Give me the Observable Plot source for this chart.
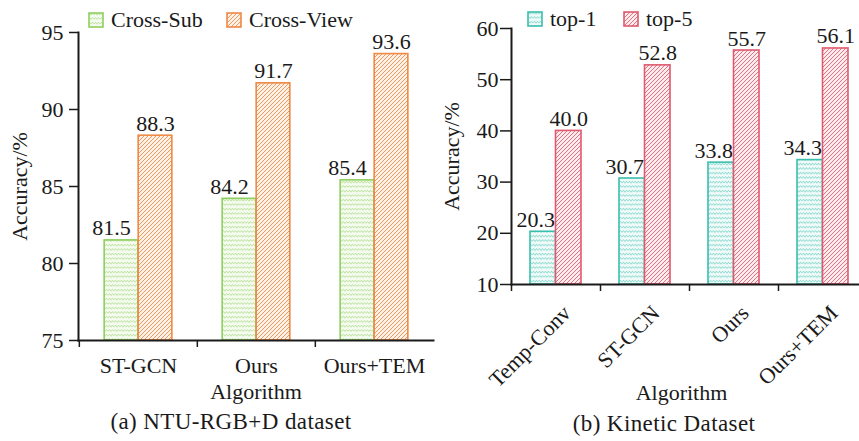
<!DOCTYPE html>
<html>
<head>
<meta charset="utf-8">
<script src="https://cdn.jsdelivr.net/npm/d3@7"></script>
<script src="https://cdn.jsdelivr.net/npm/@observablehq/plot@0.6"></script>
<style>
  html, body { margin: 0; padding: 0; background: #fff; overflow: hidden; }
  #fig { position: relative; width: 859px; height: 441px; overflow: hidden;
         font-family: "Liberation Serif", "Times New Roman", serif; color: #1a1a1a; }
  .panel { position: absolute; top: 0; }
  .txt { position: absolute; font-size: 22px; line-height: 22px; white-space: nowrap; }
  .cap { font-size: 23px; letter-spacing: 0.4px; }
  .center { transform: translateX(-50%); }
  .swatch { position: absolute; }
</style>
</head>
<body>
<div id="fig"></div>
<script>
// (a) NTU-RGB+D
const ntuAlgorithms = ["ST-GCN", "Ours", "Ours+TEM"];
const ntuSeries = ["Cross-Sub", "Cross-View"];
const crossSub = [81.5, 84.2, 85.4];
const crossView = [88.3, 91.7, 93.6];
const ntuTicks = [75, 80, 85, 90, 95];

// (b) Kinetic
const kineticAlgorithms = ["Temp-Conv", "ST-GCN", "Ours", "Ours+TEM"];
const kineticSeries = ["top-1", "top-5"];
const top1 = [20.3, 30.7, 33.8, 34.3];
const top5 = [40.0, 52.8, 55.7, 56.1];
const kineticTicks = [10, 20, 30, 40, 50, 60];

const fig = document.getElementById("fig");
const FONT = '"Liberation Serif", "Times New Roman", serif';

// Fill patterns: pale zigzag for the first series, diagonal hatch for the second
function addPatterns(svg, list) {
  const defs = d3.select(svg).insert("defs", ":first-child");
  for (const p of list) {
    const pat = defs.append("pattern")
      .attr("id", p.id).attr("patternUnits", "userSpaceOnUse")
      .attr("width", p.w).attr("height", p.h);
    pat.append("rect").attr("width", p.w).attr("height", p.h).attr("fill", p.bg);
    pat.append("path").attr("d", p.d).attr("fill", "none")
      .attr("stroke", p.color).attr("stroke-width", p.sw).attr("stroke-opacity", p.op ?? 1);
  }
}
const zigzag = (id, color, bg) => ({id, color, bg, w: 6, h: 4.5, sw: 0.8, op: 0.75, d: "M0,3 L1.5,1.2 L3,3 L4.5,1.2 L6,3"});
const hatch = (id, color, bg) => ({id, color, bg, w: 4, h: 4, sw: 1, op: 0.85, d: "M0,4 L4,0 M-1,1 L1,-1 M3,5 L5,3"});

function panel(o) {
  const bw = (o.width - o.marginLeft - o.marginRight) / o.algorithms.length;
  const yMin = o.yTicks[0];
  const marks = [];
  o.series.forEach((name, i) => {
    const data = o.algorithms.map((a, j) => ({algorithm: a, series: name, value: o.values[i][j]}));
    const first = i === 0;
    marks.push(Plot.barY(data, {
      x: "algorithm", y1: yMin, y2: "value",
      fill: `url(#${o.patternIds[i]})`, stroke: o.colors[i], strokeWidth: 1.6,
      insetLeft: first ? bw / 2 - o.barWidth : bw / 2,
      insetRight: first ? bw / 2 : bw / 2 - o.barWidth
    }));
    marks.push(Plot.text(data, {
      x: "algorithm", y: "value", text: d => d.value.toFixed(1),
      lineAnchor: "bottom", dy: -5,
      textAnchor: first ? o.firstAnchor : "middle",
      dx: first ? o.firstDx : o.barWidth / 2,
      fontSize: 22, fill: "#1a1a1a"
    }));
  });
  marks.push(
    Plot.axisY({ticks: o.yTicks, tickSize: o.yTickSize, tickPadding: o.yTickPadding, strokeWidth: 1.5,
      label: "Accuracy/%", labelAnchor: "center", labelArrow: "none", labelOffset: o.yLabelOffset}),
    Plot.axisX({tickSize: 0, tickPadding: o.xTickPadding, tickRotate: o.tickRotate ?? 0,
      dx: o.xTickDx ?? 0, label: null}),
    Plot.text(["Algorithm"], {frameAnchor: "bottom", lineAnchor: "bottom",
      dy: o.xLabelOffset, dx: o.xLabelDx ?? 0, fontSize: 22, fill: "#1a1a1a"}),
    Plot.axisX({tickSize: 7, strokeWidth: 1.5, tickFormat: () => "", label: null, dx: -bw / 2}),
    Plot.frame({anchor: "left", strokeWidth: 2}),
    Plot.frame({anchor: "bottom", strokeWidth: 2})
  );
  const svg = Plot.plot({
    width: o.width, height: o.height,
    marginLeft: o.marginLeft, marginRight: o.marginRight,
    marginTop: o.marginTop, marginBottom: o.marginBottom,
    x: {type: "band", domain: o.algorithms, padding: 0},
    y: {domain: [o.yTicks[0], o.yTicks[o.yTicks.length - 1]]},
    style: {fontFamily: FONT, fontSize: "22px", color: "#1a1a1a", background: "transparent", overflow: "visible"},
    marks
  });
  addPatterns(svg, o.patterns);
  svg.classList.add("panel");
  svg.style.left = o.left + "px";
  fig.appendChild(svg);
}

function legendItem(x, y, patternId, color, label) {
  const s = d3.create("svg").attr("class", "swatch").attr("width", 17).attr("height", 17)
    .style("left", (x - 1) + "px").style("top", (y - 1) + "px");
  s.append("rect").attr("x", 1).attr("y", 1).attr("width", 14).attr("height", 14)
    .attr("fill", `url(#${patternId})`).attr("stroke", color).attr("stroke-width", 1.6);
  fig.appendChild(s.node());
  const t = document.createElement("div");
  t.className = "txt";
  t.textContent = label;
  t.style.left = (x + 22) + "px";
  t.style.top = (y - 4) + "px";
  fig.appendChild(t);
}

function caption(cx, baseline, text) {
  const t = document.createElement("div");
  t.className = "txt cap center";
  t.textContent = text;
  t.style.left = cx + "px";
  t.style.top = (baseline - 19) + "px";
  fig.appendChild(t);
}

const GREEN = "#8fcf5e", ORANGE = "#ee8a45", TEAL = "#3bbfad", RED = "#df5a6e";

panel({
  left: 0, width: 440, height: 441,
  marginLeft: 78, marginRight: 7, marginTop: 32, marginBottom: 101,
  algorithms: ntuAlgorithms, series: ntuSeries, values: [crossSub, crossView],
  yTicks: ntuTicks, barWidth: 34,
  colors: [GREEN, ORANGE], patternIds: ["zigGreen", "hatchOrange"],
  patterns: [zigzag("zigGreen", GREEN, "#f6fbf1"), hatch("hatchOrange", ORANGE, "#fdf1e8")],
  firstAnchor: "middle", firstDx: -17 - 10,
  yTickSize: 9, yTickPadding: 6, yLabelOffset: 67,
  xTickPadding: 17, xLabelOffset: 58
});

panel({
  left: 430, width: 440, height: 441,
  marginLeft: 81, marginRight: 3, marginTop: 28, marginBottom: 157,
  algorithms: kineticAlgorithms, series: kineticSeries, values: [top1, top5],
  yTicks: kineticTicks, barWidth: 25.5,
  colors: [TEAL, RED], patternIds: ["zigTeal", "hatchRed"],
  patterns: [zigzag("zigTeal", TEAL, "#f0faf9"), hatch("hatchRed", RED, "#fcecee")],
  firstAnchor: "end", firstDx: -1,
  yTickSize: 11, yTickPadding: 2, yLabelOffset: 68,
  xTickPadding: 25, xTickDx: 11, tickRotate: -45,
  xLabelOffset: 115, xLabelDx: -8
});

legendItem(89, 13, "zigGreen", GREEN, "Cross-Sub");
legendItem(227, 13, "hatchOrange", ORANGE, "Cross-View");
legendItem(528, 12, "zigTeal", TEAL, "top-1");
legendItem(624, 12, "hatchRed", RED, "top-5");

caption(231, 430, "(a) NTU-RGB+D dataset");
caption(664, 432, "(b) Kinetic Dataset");
</script>
</body>
</html>
